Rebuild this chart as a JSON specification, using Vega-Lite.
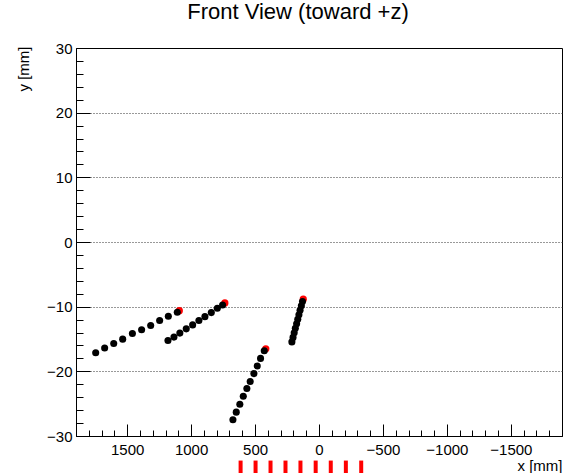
{
  "$schema": "https://vega.github.io/schema/vega-lite/v6.json",
  "autosize": {"type": "none"},
  "width": 486,
  "height": 388,
  "padding": {"left": 76, "top": 48, "right": 13, "bottom": 37},
  "background": "white",
  "config": {
    "font": "Liberation Sans",
    "view": {"stroke": "black", "strokeWidth": 1},
    "axis": {"labelFlush": false, "labelOverlap": false, "labelBound": false}
  },
  "title": {
    "text": "Front View (toward +z)",
    "fontSize": 22,
    "fontWeight": "normal",
    "color": "black",
    "font": "Liberation Sans",
    "anchor": "middle",
    "frame": "group",
    "dx": -21,
    "offset": 17
  },
  "datasets": {
    "pts": [
      {"track": "A", "kind": "black", "x": 1746, "y": -17.12},
      {"track": "A", "kind": "black", "x": 1676, "y": -16.40},
      {"track": "A", "kind": "black", "x": 1605, "y": -15.69},
      {"track": "A", "kind": "black", "x": 1535, "y": -15.02},
      {"track": "A", "kind": "black", "x": 1459, "y": -14.15},
      {"track": "A", "kind": "black", "x": 1387, "y": -13.58},
      {"track": "A", "kind": "black", "x": 1316, "y": -12.92},
      {"track": "A", "kind": "black", "x": 1246, "y": -12.15},
      {"track": "A", "kind": "black", "x": 1178, "y": -11.48},
      {"track": "A", "kind": "black", "x": 1108, "y": -10.86},
      {"track": "A", "kind": "red", "x": 1092, "y": -10.62},
      {"track": "B", "kind": "black", "x": 1181, "y": -15.23},
      {"track": "B", "kind": "black", "x": 1134, "y": -14.71},
      {"track": "B", "kind": "black", "x": 1088, "y": -14.09},
      {"track": "B", "kind": "black", "x": 1038, "y": -13.43},
      {"track": "B", "kind": "black", "x": 988, "y": -12.82},
      {"track": "B", "kind": "black", "x": 939, "y": -12.15},
      {"track": "B", "kind": "black", "x": 892, "y": -11.54},
      {"track": "B", "kind": "black", "x": 842, "y": -10.92},
      {"track": "B", "kind": "black", "x": 795, "y": -10.25},
      {"track": "B", "kind": "black", "x": 754, "y": -9.74},
      {"track": "B", "kind": "red", "x": 736, "y": -9.43},
      {"track": "C", "kind": "black", "x": 673, "y": -27.48},
      {"track": "C", "kind": "black", "x": 647, "y": -26.31},
      {"track": "C", "kind": "black", "x": 619, "y": -25.08},
      {"track": "C", "kind": "black", "x": 592, "y": -23.85},
      {"track": "C", "kind": "black", "x": 564, "y": -22.66},
      {"track": "C", "kind": "black", "x": 538, "y": -21.58},
      {"track": "C", "kind": "black", "x": 509, "y": -20.35},
      {"track": "C", "kind": "black", "x": 483, "y": -19.17},
      {"track": "C", "kind": "black", "x": 457, "y": -18.00},
      {"track": "C", "kind": "black", "x": 428, "y": -16.82},
      {"track": "C", "kind": "red", "x": 416, "y": -16.51},
      {"track": "D", "kind": "black", "x": 212, "y": -15.45},
      {"track": "D", "kind": "black", "x": 203, "y": -14.75},
      {"track": "D", "kind": "black", "x": 194, "y": -14.05},
      {"track": "D", "kind": "black", "x": 185, "y": -13.35},
      {"track": "D", "kind": "black", "x": 175, "y": -12.65},
      {"track": "D", "kind": "black", "x": 166, "y": -11.95},
      {"track": "D", "kind": "black", "x": 157, "y": -11.25},
      {"track": "D", "kind": "black", "x": 148, "y": -10.55},
      {"track": "D", "kind": "black", "x": 138, "y": -9.85},
      {"track": "D", "kind": "black", "x": 129, "y": -9.20},
      {"track": "D", "kind": "red", "x": 123, "y": -8.85}
    ],
    "strips": [
      {"x": 613}, {"x": 496}, {"x": 379}, {"x": 262}, {"x": 145},
      {"x": 26}, {"x": -92}, {"x": -210}, {"x": -330}
    ]
  },
  "resolve": {"axis": {"x": "independent", "y": "independent"}},
  "layer": [
    {
      "data": {"name": "pts"},
      "transform": [{"filter": "datum.kind === 'red'"}],
      "mark": {"type": "circle", "color": "#ff0000", "size": 52, "opacity": 1},
      "encoding": {
        "x": {
          "field": "x",
          "type": "quantitative",
          "scale": {"domain": [-1900, 1900], "reverse": true, "nice": false, "zero": false},
          "axis": {
            "orient": "bottom",
            "values": [-1500, -1000, -500, 0, 500, 1000, 1500],
            "tickCount": 200,
            "format": "d",
            "labelFontSize": 15,
            "labelColor": "black",
            "tickSize": -12,
            "labelPadding": 18,
            "tickColor": "black",
            "domainColor": "black",
            "grid": false,
            "title": "x [mm]",
            "titleAnchor": "start",
            "titleAlign": "right",
            "titleFontSize": 15,
            "titleFontWeight": "normal",
            "titleColor": "black",
            "titlePadding": 1
          }
        },
        "y": {
          "field": "y",
          "type": "quantitative",
          "scale": {"domain": [-30, 30], "nice": false, "zero": false},
          "axis": {
            "orient": "left",
            "values": [-30, -20, -10, 0, 10, 20, 30],
            "tickCount": 200,
            "format": "d",
            "labelFontSize": 15,
            "labelColor": "black",
            "tickSize": -14,
            "labelPadding": 18,
            "tickColor": "black",
            "domainColor": "black",
            "grid": true,
            "gridColor": "#333333",
            "gridDash": [1, 2],
            "gridOpacity": {"condition": {"test": "abs(datum.value) < 30", "value": 1}, "value": 0},
            "title": "y [mm]",
            "titleFontSize": 15,
            "titleFontWeight": "normal",
            "titleColor": "black",
            "titleAngle": -90,
            "titleAlign": "right",
            "titleBaseline": "middle",
            "titleX": -53,
            "titleY": -2
          }
        }
      }
    },
    {
      "data": {"name": "pts"},
      "transform": [{"filter": "datum.kind === 'black'"}],
      "mark": {"type": "circle", "color": "black", "size": 50, "opacity": 1},
      "encoding": {
        "x": {
          "field": "x",
          "type": "quantitative",
          "axis": {
            "orient": "bottom",
            "values": [-1900, -1800, -1700, -1600, -1400, -1300, -1200, -1100, -900, -800, -700, -600, -400, -300, -200, -100, 100, 200, 300, 400, 600, 700, 800, 900, 1100, 1200, 1300, 1400, 1600, 1700, 1800, 1900],
            "tickCount": 200,
            "labels": false,
            "domain": false,
            "grid": false,
            "title": null,
            "tickSize": -6,
            "tickColor": "black"
          }
        },
        "y": {
          "field": "y",
          "type": "quantitative",
          "axis": {
            "orient": "left",
            "values": [-28, -26, -24, -22, -18, -16, -14, -12, -8, -6, -4, -2, 2, 4, 6, 8, 12, 14, 16, 18, 22, 24, 26, 28],
            "tickCount": 200,
            "labels": false,
            "domain": false,
            "grid": false,
            "title": null,
            "tickSize": -7,
            "tickColor": "black"
          }
        }
      }
    },
    {
      "data": {"name": "strips"},
      "mark": {"type": "rule", "color": "#ff0000", "strokeWidth": 4, "clip": false},
      "encoding": {
        "x": {"field": "x", "type": "quantitative", "axis": null},
        "y": {"datum": -33.8, "axis": null},
        "y2": {"datum": -36.5}
      }
    }
  ]
}
